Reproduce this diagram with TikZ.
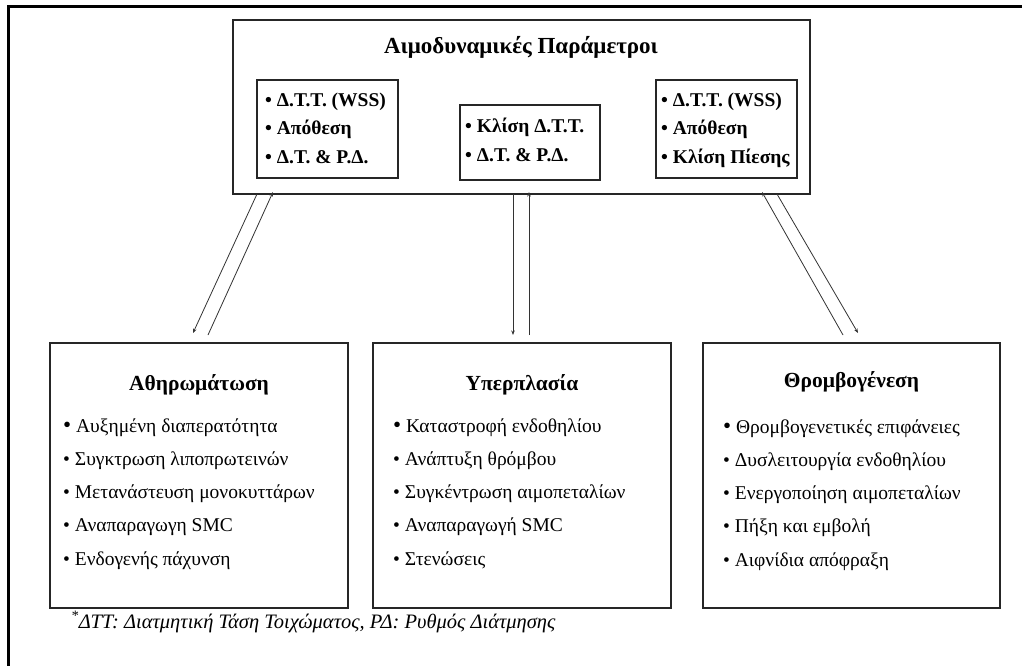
\documentclass[tikz,border=0pt]{standalone}
\usepackage{fontspec}
\setmainfont{Liberation Serif}
\usetikzlibrary{arrows.meta,calc}
\tikzset{
  frame/.style={line width=3pt,black},
  bigbox/.style={draw=black!85,line width=1.3pt,inner sep=0pt,outer sep=0pt},
  smallbox/.style={draw=black!85,line width=1.1pt,inner sep=0pt,outer sep=0pt},
  toptitle/.style={font=\bfseries\fontsize{23}{26}\selectfont,inner sep=0pt},
  topitem/.style={font=\bfseries\fontsize{19.5}{22}\selectfont,inner sep=0pt,anchor=base west},
  boxtitle/.style={font=\bfseries\fontsize{21.5}{24}\selectfont,inner sep=0pt,anchor=base},
  boxitem/.style={font=\fontsize{19.5}{22}\selectfont,inner sep=0pt,anchor=base west},
  note/.style={font=\itshape\fontsize{20.5}{24}\selectfont,inner sep=0pt,anchor=base west},
  link/.style={draw=black!80,line width=0.8pt,-{Stealth[length=4.5pt,width=3.5pt]}}
}
\begin{document}
\begin{tikzpicture}[x=1pt,y=-1pt]
\useasboundingbox (0,0) rectangle (1022,666);
\fill[white] (0,0) rectangle (1022,666);
% outer frame (cut at right and bottom)
\draw[frame] (8,668) -- (8,6.5) -- (1024,6.5);

% top box
\node[bigbox,minimum width=577pt,minimum height=174pt] (top) at (521.5,107) {};
\node[toptitle] (toptitle) at (521,47) {Αιμοδυναμικές Παράμετροι};
\node[smallbox,minimum width=141pt,minimum height=98pt] (tl) at (327.5,129) {};
\node[smallbox,minimum width=140pt,minimum height=75pt] (tm) at (530,142.5) {};
\node[smallbox,minimum width=141pt,minimum height=98pt] (tr) at (726.5,129) {};
\foreach \t [count=\i] in {Δ.Τ.Τ. (WSS),Απόθεση,Δ.Τ. \& Ρ.Δ.}
  \node[topitem] (tl\i) at (265,{107+28*(\i-1)}) {\textbullet\ \t};
\foreach \t [count=\i] in {Κλίση Δ.Τ.Τ.,Δ.Τ. \& Ρ.Δ.}
  \node[topitem] (tm\i) at (465,{132+29*(\i-1)}) {\textbullet\ \t};
\foreach \t [count=\i] in {Δ.Τ.Τ. (WSS),Απόθεση,Κλίση Πίεσης}
  \node[topitem] (tr\i) at (661,{107+28*(\i-1)}) {\textbullet\ \t};

% bottom boxes
\node[bigbox,minimum width=298pt,minimum height=265pt] (ath) at (199,475.5) {};
\node[bigbox,minimum width=298pt,minimum height=265pt] (hyp) at (522,475.5) {};
\node[bigbox,minimum width=297pt,minimum height=265pt] (thr) at (851.5,475.5) {};

\node[boxtitle] (athT) at (199,390) {Αθηρωμάτωση};
\node[boxtitle] (hypT) at (522,390) {Υπερπλασία};
\node[boxtitle] (thrT) at (851.5,387) {Θρομβογένεση};

\foreach \t [count=\i] in {Αυξημένη διαπερατότητα,Συγκτρωση λιποπρωτεινών,Μετανάστευση μονοκυττάρων,Αναπαραγωγη SMC,Ενδογενής πάχυνση}
  \node[boxitem] (ath\i) at (63,{432+33.3*(\i-1)}) {\ifnum\i=1{\fontsize{23}{23}\selectfont\textbullet}\else\textbullet\fi\ \t};
\foreach \t [count=\i] in {Καταστροφή ενδοθηλίου,Ανάπτυξη θρόμβου,Συγκέντρωση αιμοπεταλίων,Αναπαραγωγή SMC,Στενώσεις}
  \node[boxitem] (hyp\i) at (393,{432+33.3*(\i-1)}) {\ifnum\i=1{\fontsize{23}{23}\selectfont\textbullet}\else\textbullet\fi\ \t};
\foreach \t [count=\i] in {Θρομβογενετικές επιφάνειες,Δυσλειτουργία ενδοθηλίου,Ενεργοποίηση αιμοπεταλίων,Πήξη και εμβολή,Αιφνίδια απόφραξη}
  \node[boxitem] (thr\i) at (723,{433+33.3*(\i-1)}) {\ifnum\i=1{\fontsize{23}{23}\selectfont\textbullet}\else\textbullet\fi\ \t};

% connectors
\draw[link] ($(top.south west)+(24,0)$) -- ($(ath.north west)+(143,-10)$);
\draw[link] ($(ath.north west)+(158,-8)$) -- ($(top.south west)+(40,-2)$);
\draw[link] ($(top.south west)+(280,0)$) -- ($(hyp.north west)+(140,-8)$);
\draw[link] ($(hyp.north west)+(156,-8)$) -- ($(top.south west)+(296,-2)$);
\draw[link] ($(thr.north west)+(140,-8)$) -- ($(top.south west)+(529,-2)$);
\draw[link] ($(top.south west)+(544,0)$) -- ($(thr.north west)+(155,-10)$);

% footnote
\node[note] (fn) at (71,628) {\textsuperscript{*}ΔΤΤ: Διατμητική Τάση Τοιχώματος, ΡΔ: Ρυθμός Διάτμησης};
\end{tikzpicture}
\end{document}
